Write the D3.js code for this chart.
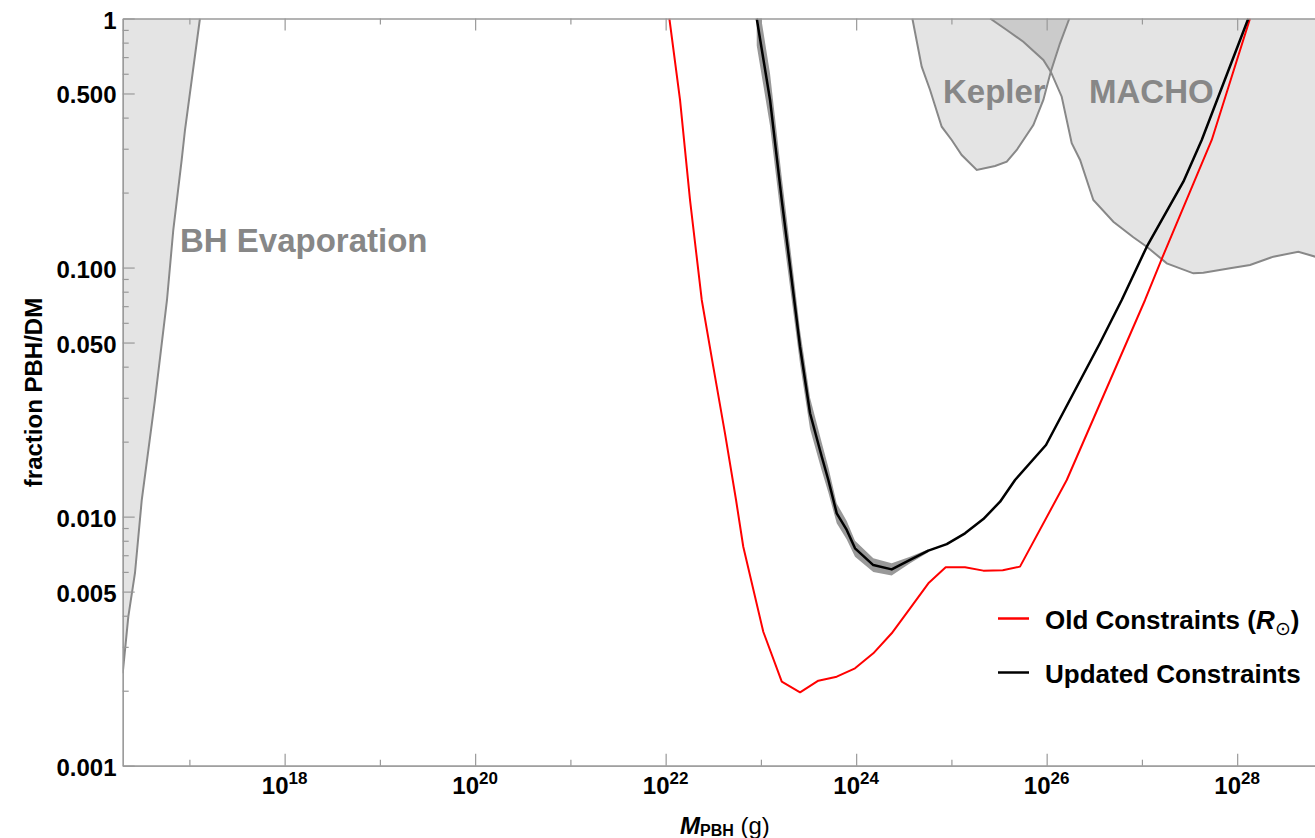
<!DOCTYPE html>
<html><head><meta charset="utf-8">
<script src="https://cdn.jsdelivr.net/npm/d3@7"></script>
<style>
body{margin:0;background:#fff}
text{font-family:"Liberation Sans",Arial,Helvetica,sans-serif}
</style>
</head><body>
<svg id="chart" width="1315" height="838"></svg>
<script>
// ---------- data (log10 of mass in grams, fraction PBH/DM) ----------
const xMajorExp = [18, 20, 22, 24, 26, 28];
const xMinorExp = [17, 19, 21, 23, 25, 27];
const yMajor = [1, 0.5, 0.1, 0.05, 0.01, 0.005, 0.001];
const yMajorLabels = ["1", "0.500", "0.100", "0.050", "0.010", "0.005", "0.001"];
const yMinor = [0.9, 0.8, 0.7, 0.6, 0.4, 0.3, 0.2,
                0.09, 0.08, 0.07, 0.06, 0.04, 0.03, 0.02,
                0.009, 0.008, 0.007, 0.006, 0.004, 0.003, 0.002];

// Old constraints (R_sun) - red
const oldLogM = [22.039, 22.151, 22.256, 22.379, 22.500, 22.623, 22.739, 22.815, 23.025, 23.219,
                 23.411, 23.603, 23.796, 23.988, 24.180, 24.373, 24.566, 24.758, 24.940, 25.143,
                 25.335, 25.539, 25.720, 26.211, 27.033, 27.218, 27.733, 28.135];
const oldF    = [1, 0.471, 0.1867, 0.0741, 0.0400, 0.0216, 0.01166, 0.00757, 0.00345, 0.002175,
                 0.00197, 0.002194, 0.002277, 0.00246, 0.002826, 0.003401, 0.004285, 0.0054, 0.00626, 0.00626,
                 0.00607, 0.00609, 0.0063, 0.01403, 0.0741, 0.1106, 0.3253, 1];

// Updated constraints - black
const newLogM = [22.956, 23.096, 23.219, 23.324, 23.411, 23.516, 23.639, 23.708, 23.796, 23.901,
                 23.988, 24.180, 24.373, 24.566, 24.758, 24.951, 25.143, 25.335, 25.511, 25.668,
                 25.993, 26.560, 26.788, 27.051, 27.435, 27.628, 28.117];
const newF    = [1, 0.471, 0.1867, 0.0891, 0.0481, 0.0260, 0.0174, 0.01403, 0.01031, 0.00884,
                 0.00746, 0.00639, 0.00614, 0.0067, 0.0073, 0.00776, 0.00857, 0.00978, 0.01148, 0.01403,
                 0.01939, 0.0498, 0.0741, 0.1213, 0.2212, 0.3253, 1];

// Uncertainty band around updated constraints
const bandLogM = [22.956, 23.096, 23.219, 23.324, 23.411, 23.516, 23.639, 23.708, 23.796, 23.901,
                  23.988, 24.180, 24.373, 24.566, 24.758];
const bandLo   = [0.78, 0.37, 0.15, 0.074, 0.041, 0.0225, 0.0153, 0.0125, 0.0094, 0.0081,
                  0.0069, 0.0060, 0.0058, 0.0065, 0.0072];
const bandHi   = [1.3, 0.6, 0.23, 0.107, 0.056, 0.030, 0.0198, 0.0158, 0.0113, 0.0096,
                  0.0080, 0.0068, 0.0065, 0.0069, 0.0074];

// BH evaporation boundary
const bhLogM = [16.300, 16.359, 16.429, 16.500, 16.639, 16.765, 16.831, 16.919, 16.954, 17.111];
const bhF    = [0.00235, 0.003966, 0.00594, 0.01166, 0.0294, 0.0741, 0.1415, 0.2703, 0.3567, 1];

// Kepler boundary
const keplerLogM = [24.590, 24.688, 24.776, 24.898, 25.003, 25.108, 25.266, 25.458, 25.581, 25.686,
                    25.860, 25.965, 26.043, 26.140, 26.238];
const keplerF    = [1, 0.6405, 0.5163, 0.3677, 0.3253, 0.2831, 0.2464, 0.2557, 0.2661, 0.2965,
                    0.3736, 0.4709, 0.6114, 0.7950, 1];

// MACHO boundary
const machoLogM = [25.406, 25.581, 25.755, 25.965, 26.043, 26.158, 26.263, 26.351, 26.490, 26.700,
                   26.910, 27.051, 27.261, 27.540, 27.645, 27.925, 28.135, 28.380, 28.642, 28.818, 28.95];
const machoF    = [1, 0.899, 0.807, 0.6814, 0.6114, 0.4853, 0.3155, 0.2703, 0.1867, 0.1528,
                   0.1323, 0.1213, 0.104, 0.0948, 0.0954, 0.0993, 0.1024, 0.1106, 0.1158, 0.1106, 0.112];

// ---------- layout ----------
const svg = d3.select("#chart");
const L = 122.7, R = 1315, T = 18.5, B = 765.7;
const x = d3.scaleLog().domain([Math.pow(10, 16.3), Math.pow(10, 28.817)]).range([L, R]);
const y = d3.scaleLog().domain([0.001, 1]).range([B, T]);
const P = (e, f) => [x(Math.pow(10, e)), y(f)];
const zip = (ms, fs) => ms.map((m, i) => P(m, fs[i]));

svg.append("defs").append("clipPath").attr("id", "clip")
  .append("rect").attr("x", L).attr("y", T).attr("width", R - L + 5).attr("height", B - T);

const plot = svg.append("g").attr("clip-path", "url(#clip)");
const line = d3.line();

// BH evaporation region
const bhPts = zip(bhLogM, bhF);
plot.append("path")
  .attr("d", line([...bhPts, P(16.0, 1), P(16.0, bhF[0]), bhPts[0]]) + "Z")
  .attr("fill", "#e4e4e4");
plot.append("path").attr("d", line(bhPts)).attr("fill", "none").attr("stroke", "#888").attr("stroke-width", 2);

// Kepler & MACHO regions (translucent so overlap is darker)
const kepPts = zip(keplerLogM, keplerF);
const macPts = zip(machoLogM, machoF);
plot.append("path").attr("d", line(kepPts) + "Z").attr("fill", "#000").attr("fill-opacity", 0.105);
plot.append("path").attr("d", line([...macPts, P(28.95, 1)]) + "Z").attr("fill", "#000").attr("fill-opacity", 0.105);
plot.append("path").attr("d", line(kepPts)).attr("fill", "none").attr("stroke", "#888").attr("stroke-width", 2);
plot.append("path").attr("d", line(macPts)).attr("fill", "none").attr("stroke", "#888").attr("stroke-width", 2);

// Band for updated constraints
const band = d3.area()
  .x(d => x(Math.pow(10, d)))
  .y0((d, i) => y(bandLo[i]))
  .y1((d, i) => y(bandHi[i]));
plot.append("path").attr("d", band(bandLogM)).attr("fill", "#999");

// Curves
plot.append("path").attr("d", line(zip(oldLogM, oldF)))
  .attr("fill", "none").attr("stroke", "#ff0000").attr("stroke-width", 2).attr("stroke-linejoin", "round");
plot.append("path").attr("d", line(zip(newLogM, newF)))
  .attr("fill", "none").attr("stroke", "#000").attr("stroke-width", 2.5).attr("stroke-linejoin", "round");

// ---------- axes ----------
const axisColor = "#999";
function styleAxis(g) {
  g.selectAll("path,line").attr("stroke", axisColor).attr("stroke-width", 1.2);
  g.selectAll("text").remove();
}
const xMaj = xMajorExp.map(e => Math.pow(10, e));
const xMin = xMinorExp.map(e => Math.pow(10, e));

svg.append("g").attr("transform", `translate(0,${B})`)
  .call(d3.axisBottom(x).tickValues(xMaj).tickSizeInner(-12).tickSizeOuter(0).tickFormat(""))
  .call(styleAxis);
svg.append("g").attr("transform", `translate(0,${B})`)
  .call(d3.axisBottom(x).tickValues(xMin).tickSizeInner(-6).tickSizeOuter(0).tickFormat(""))
  .call(styleAxis);
svg.append("g").attr("transform", `translate(0,${T})`)
  .call(d3.axisTop(x).tickValues(xMaj).tickSizeInner(-12).tickSizeOuter(0).tickFormat(""))
  .call(styleAxis);
svg.append("g").attr("transform", `translate(0,${T})`)
  .call(d3.axisTop(x).tickValues(xMin).tickSizeInner(-6).tickSizeOuter(0).tickFormat(""))
  .call(styleAxis);
svg.append("g").attr("transform", `translate(${L},0)`)
  .call(d3.axisLeft(y).tickValues(yMajor).tickSizeInner(-12).tickSizeOuter(0).tickFormat(""))
  .call(styleAxis);
svg.append("g").attr("transform", `translate(${L},0)`)
  .call(d3.axisLeft(y).tickValues(yMinor).tickSizeInner(-6).tickSizeOuter(0).tickFormat(""))
  .call(styleAxis);

// x tick labels with superscripts
const xl = svg.append("g").selectAll("text").data(xMajorExp).join("text")
  .attr("x", d => x(Math.pow(10, d)))
  .attr("y", 794)
  .attr("text-anchor", "middle")
  .attr("font-weight", "bold")
  .attr("font-size", 24);
xl.append("tspan").text("10");
xl.append("tspan").attr("dy", -10).attr("font-size", 17).text(d => d);

// y tick labels
svg.append("g").selectAll("text").data(yMajor).join("text")
  .attr("x", 116.5)
  .attr("y", d => y(d) + 10)
  .attr("text-anchor", "end")
  .attr("font-weight", "bold")
  .attr("font-size", 24)
  .text((d, i) => yMajorLabels[i]);

// axis titles
svg.append("text")
  .attr("transform", "translate(42,392.5) rotate(-90)")
  .attr("text-anchor", "middle")
  .attr("font-weight", "bold")
  .attr("font-size", 24)
  .text("fraction PBH/DM");

const xt = svg.append("text").attr("x", 680).attr("y", 834).attr("font-size", 24);
xt.append("tspan").attr("font-weight", "bold").attr("font-style", "italic").text("M");
xt.append("tspan").attr("font-weight", "bold").attr("font-size", 16).attr("dy", 2).text("PBH");
xt.append("tspan").attr("dy", -2).text(" (g)");

// region labels
const labelColor = "#878787";
svg.append("text").attr("x", 180).attr("y", 252).attr("font-size", 33).attr("font-weight", "bold")
  .attr("fill", labelColor).text("BH Evaporation");
svg.append("text").attr("x", 943).attr("y", 103).attr("font-size", 33).attr("font-weight", "bold")
  .attr("fill", labelColor).text("Kepler");
svg.append("text").attr("x", 1089).attr("y", 103).attr("font-size", 33).attr("font-weight", "bold")
  .attr("fill", labelColor).text("MACHO");

// legend
const legend = svg.append("g");
legend.append("line").attr("x1", 998).attr("x2", 1029).attr("y1", 618.5).attr("y2", 618.5)
  .attr("stroke", "#ff0000").attr("stroke-width", 2.5);
legend.append("line").attr("x1", 998).attr("x2", 1029).attr("y1", 672.5).attr("y2", 672.5)
  .attr("stroke", "#000").attr("stroke-width", 2.5);
const t1 = legend.append("text").attr("x", 1045).attr("y", 629).attr("font-size", 26).attr("font-weight", "bold");
t1.append("tspan").text("Old Constraints (");
t1.append("tspan").attr("font-style", "italic").text("R");
t1.append("tspan").attr("font-size", 19).attr("font-weight", "normal").attr("dy", 6).text("\u2299");
t1.append("tspan").attr("dy", -6).text(")");
legend.append("text").attr("x", 1045).attr("y", 683).attr("font-size", 26).attr("font-weight", "bold")
  .text("Updated Constraints");
</script>
</body></html>
